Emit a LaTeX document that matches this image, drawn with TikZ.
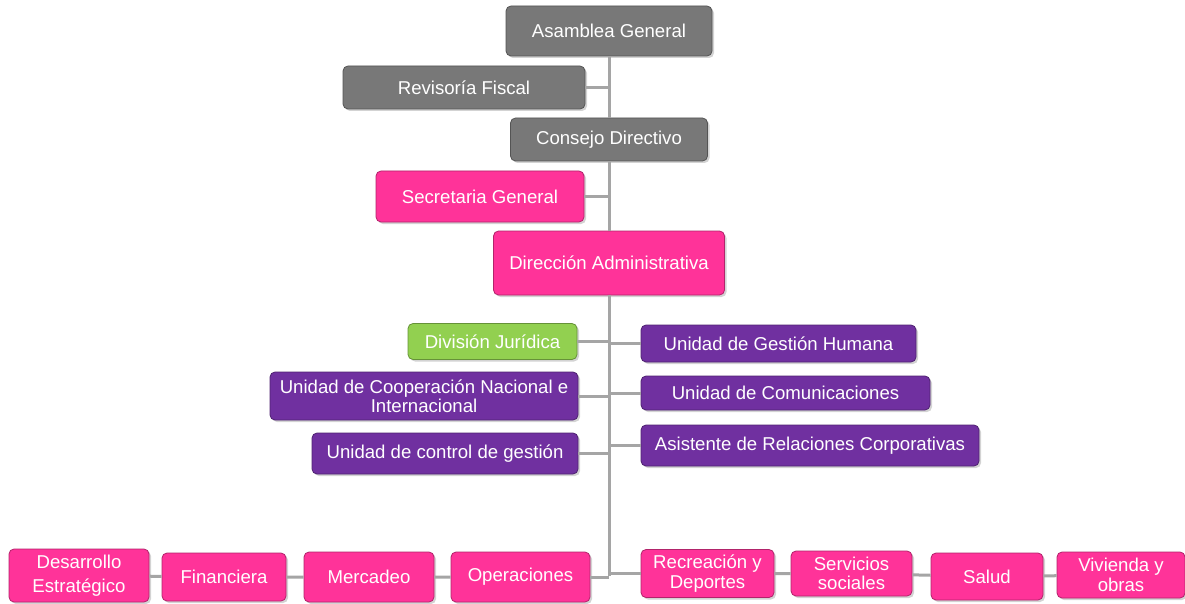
\documentclass[tikz,border=0pt]{standalone}
\usepackage{fontspec}
\setmainfont{Liberation Sans}
\usetikzlibrary{shadows}

\definecolor{boxgray}{RGB}{120,120,120}
\definecolor{boxpink}{RGB}{255,51,153}
\definecolor{boxgreen}{RGB}{146,208,80}
\definecolor{boxpurple}{RGB}{112,48,160}
\definecolor{linegray}{RGB}{165,165,165}

\begin{document}
\begin{tikzpicture}[x=1pt, y=-1pt,
		box/.style={draw=#1!70!black, fill=#1, rounded corners=5pt, text=white, align=center,
			inner sep=0pt, line width=0.8pt, font=\fontsize{18.6}{19.5}\selectfont,
			drop shadow={opacity=0.35, shadow xshift=2pt, shadow yshift=-2pt}},
		conn/.style={linegray, line width=3pt}]
				\useasboundingbox (0,0) rectangle (1185,604);
				% upper boxes
				\node[box=boxgray, minimum width=206pt, minimum height=50pt] (asamblea) at (609,31) {Asamblea General};
				\node[box=boxgray, minimum width=242pt, minimum height=43pt] (revisoria) at (464,87.5) {Revisoría Fiscal};
				\node[box=boxgray, minimum width=197pt, minimum height=43pt] (consejo) at (609,139.5) {Consejo Directivo};
				\node[box=boxpink, minimum width=208pt, minimum height=51pt] (secretaria) at (480,196.5) {Secretaria General};
				\node[box=boxpink, minimum width=231pt, minimum height=64pt] (direccion) at (609,263) {Dirección Administrativa};
				
				% units left
				\node[box=boxgreen, minimum width=169pt, minimum height=36pt] (juridica) at (492.5,341.5) {División Jurídica};
				\node[box=boxpurple, minimum width=308pt, minimum height=48pt] (cooperacion) at (424,396) {Unidad de Cooperación Nacional e\\Internacional};
				\node[box=boxpurple, minimum width=266pt, minimum height=41pt] (control) at (445,453.5) {Unidad de control de gestión};
				
				% units right
				\node[box=boxpurple, minimum width=275pt, minimum height=37pt] (gestion) at (778.5,343.5) {Unidad de Gestión Humana};
				\node[box=boxpurple, minimum width=289pt, minimum height=34pt] (comunicaciones) at (785.5,393) {Unidad de Comunicaciones};
				\node[box=boxpurple, minimum width=338pt, minimum height=41pt] (asistente) at (810,445.5) {Asistente de Relaciones Corporativas};
				
				% bottom row
				\node[box=boxpink, minimum width=140pt, minimum height=53pt] (desarrollo) at (79,575.5) {Desarrollo\\[5pt]Estratégico};
				\node[box=boxpink, minimum width=124pt, minimum height=48pt] (financiera) at (224,577) {Financiera};
				\node[box=boxpink, minimum width=130pt, minimum height=50pt] (mercadeo) at (369,577) {Mercadeo};
				\node[box=boxpink, minimum width=139pt, minimum height=50pt] (operaciones) at (520.5,577) {Operaciones};
				\node[box=boxpink, minimum width=133pt, minimum height=48pt] (recreacion) at (707.5,573.5) {Recreación y\\Deportes};
				\node[box=boxpink, minimum width=121pt, minimum height=45pt] (servicios) at (851.5,573.5) {Servicios\\sociales};
				\node[box=boxpink, minimum width=112pt, minimum height=47pt] (salud) at (987,576.5) {Salud};
				\node[box=boxpink, minimum width=128pt, minimum height=46pt] (vivienda) at (1121,575) {Vivienda y\\obras};
				\coordinate (trunk) at (609,575.5);
				
				% trunk line
				\draw[conn] (asamblea.south) -- (consejo.north);
				\draw[conn] (consejo.south) -- (direccion.north);
				\draw[conn] (direccion.south) -- (trunk);
				\foreach \n in {revisoria, secretaria, juridica, cooperacion, control, operaciones}
					\draw[conn] (\n.east) -- (\n.east -| trunk);
				\foreach \n in {gestion, comunicaciones, asistente, recreacion}
					\draw[conn] (\n.west) -- (\n.west -| trunk);
				
				% bottom chains
				\draw[conn] (desarrollo) -- (financiera) -- (mercadeo) -- (operaciones);
				\draw[conn] (recreacion) -- (servicios) -- (salud) -- (vivienda);
			\end{tikzpicture}
\end{document}
